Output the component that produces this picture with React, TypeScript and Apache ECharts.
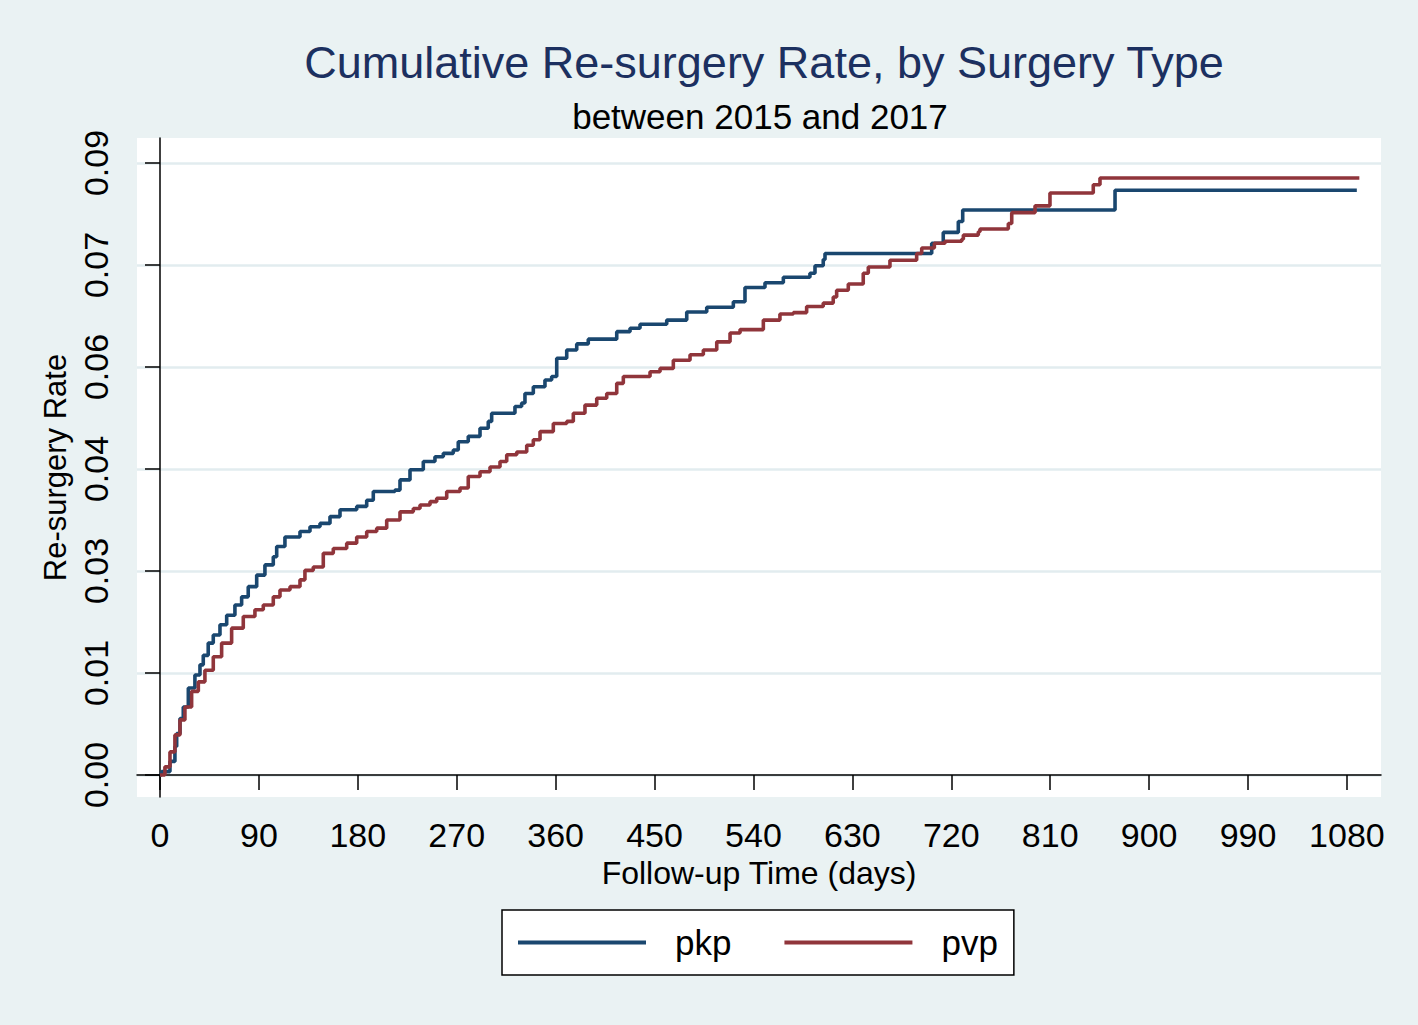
import React, { useEffect, useRef } from "react";
import * as echarts from "echarts";

const FONT = "Liberation Sans, Arial, Helvetica, sans-serif";

const chartTitle = "Cumulative Re-surgery Rate, by Surgery Type";
const chartSubtitle = "between 2015 and 2017";
const xAxisTitle = "Follow-up Time (days)";
const yAxisTitle = "Re-surgery Rate";
const seriesNames = ["pkp", "pvp"];

const xTickValues = [0, 90, 180, 270, 360, 450, 540, 630, 720, 810, 900, 990, 1080];
const yTickValues = [0, 0.015, 0.03, 0.045, 0.06, 0.075, 0.09];
const yTickLabels = ["0.00", "0.01", "0.03", "0.04", "0.06", "0.07", "0.09"];

const pkpDays = [
  0, 1.5, 9.1, 13.6, 15.2, 18.2, 21.2, 25.8, 31.8, 36.4, 39.4, 43.9, 48.5, 54.6, 60.7, 68.2,
  74.3, 80.3, 88.0, 95.5, 103.1, 106.2, 113.7, 127.4, 136.5, 145.6, 154.7, 163.8, 179.0, 188.1,
  194.1, 213.8, 218.4, 227.5, 239.6, 250.2, 257.8, 266.9, 271.4, 280.5, 291.2, 298.7, 301.8,
  323.0, 329.1, 332.1, 339.7, 350.3, 356.4, 361.0, 370.1, 379.2, 389.7, 415.6, 427.7, 436.8,
  461.1, 479.3, 497.5, 521.7, 532.3, 550.5, 567.2, 591.4, 596.0, 603.5, 605.1, 702.2, 712.7,
  726.4, 730.4, 869.0, 1089,
];
const pkpRate = [
  0, 0.0005, 0.002, 0.0042, 0.0061, 0.0083, 0.01, 0.0128, 0.0147, 0.0162, 0.0176, 0.0194,
  0.0206, 0.0221, 0.0235, 0.025, 0.0262, 0.0277, 0.0294, 0.0309, 0.0321, 0.0336, 0.035, 0.0358,
  0.0365, 0.037, 0.038, 0.039, 0.0395, 0.0404, 0.0417, 0.0419, 0.0434, 0.0449, 0.0461, 0.0468,
  0.0473, 0.0478, 0.049, 0.0498, 0.051, 0.052, 0.0532, 0.0542, 0.0547, 0.0561, 0.0571, 0.0581,
  0.0586, 0.0613, 0.0625, 0.0634, 0.0641, 0.0652, 0.0657, 0.0663, 0.0669, 0.0681, 0.0688,
  0.0696, 0.0717, 0.0724, 0.0732, 0.0738, 0.0749, 0.0758, 0.0767, 0.0782, 0.0798, 0.0814,
  0.0831, 0.086, 0.086,
];

const pvpDays = [
  0, 4.5, 9.1, 13.6, 18.2, 22.7, 28.8, 34.9, 40.9, 48.5, 56.1, 65.2, 75.8, 86.4, 94.0, 103.1,
  109.2, 118.3, 127.4, 131.9, 139.5, 148.6, 157.7, 169.9, 179.0, 188.1, 197.2, 206.3, 218.4,
  230.5, 236.6, 245.7, 251.8, 260.9, 273.0, 280.5, 291.2, 300.3, 309.4, 315.5, 324.6, 333.7,
  339.7, 345.8, 357.9, 370.1, 376.1, 386.7, 397.4, 406.5, 415.6, 421.6, 445.9, 455.0, 467.1,
  482.3, 494.4, 506.6, 518.7, 527.8, 549.0, 564.1, 576.3, 588.4, 603.5, 612.6, 615.7, 626.3,
  639.9, 644.5, 664.2, 688.5, 693.1, 704.6, 714.3, 729.5, 731.0, 744.6, 746.1, 771.9, 775.0,
  796.2, 809.8, 849.2, 855.3, 1091.3,
];
const pvpRate = [
  0, 0.0012, 0.0034, 0.0059, 0.0081, 0.01, 0.0123, 0.0137, 0.0154, 0.0174, 0.0194, 0.0216,
  0.0233, 0.0243, 0.025, 0.0262, 0.0272, 0.0277, 0.0287, 0.0301, 0.0306, 0.0326, 0.0333,
  0.0341, 0.035, 0.0358, 0.0363, 0.0375, 0.0387, 0.0392, 0.0397, 0.0402, 0.0407, 0.0417,
  0.0422, 0.0439, 0.0446, 0.0453, 0.0461, 0.0471, 0.0475, 0.0485, 0.0493, 0.0505, 0.0517,
  0.052, 0.0532, 0.0544, 0.0554, 0.0561, 0.0576, 0.0586, 0.0593, 0.0598, 0.061, 0.0618, 0.0625,
  0.0637, 0.065, 0.0655, 0.0669, 0.0678, 0.068, 0.0689, 0.0694, 0.0703, 0.0713, 0.0722, 0.0738,
  0.0747, 0.0757, 0.0767, 0.0775, 0.0782, 0.0785, 0.0788, 0.0794, 0.0799, 0.0803, 0.0811,
  0.0827, 0.0837, 0.0856, 0.0868, 0.0878, 0.0878,
];

const seriesColors = ["#1a476f", "#90353b"];

function zip(a: number[], b: number[]) {
  return a.map((v, i) => [v, b[i]]);
}

export default function App() {
  const ref = useRef<HTMLDivElement>(null);
  useEffect(() => {
    if (!ref.current) return;
    const chart = echarts.init(ref.current, undefined, { renderer: "svg" });
    const yLabel = (v: number) => {
      const i = yTickValues.findIndex((t) => Math.abs(t - v) < 1e-9);
      return i >= 0 ? yTickLabels[i] : "";
    };
    chart.setOption({
      animation: false,
      backgroundColor: "#eaf2f3",
      title: [
        {
          text: chartTitle,
          left: 764,
          top: 40,
          textAlign: "center",
          padding: 0,
          textStyle: { fontSize: 45, fontWeight: "normal", color: "#1c3060", fontFamily: FONT },
        },
        {
          text: chartSubtitle,
          left: 760,
          top: 99,
          textAlign: "center",
          padding: 0,
          textStyle: { fontSize: 35, fontWeight: "normal", color: "#000", fontFamily: FONT },
        },
      ],
      grid: {
        left: 137,
        top: 138,
        right: 37,
        bottom: 228,
        show: true,
        backgroundColor: "#ffffff",
        borderWidth: 0,
      },
      legend: {
        data: seriesNames,
        left: 502,
        top: 910,
        orient: "horizontal",
        backgroundColor: "#ffffff",
        borderColor: "#000000",
        borderWidth: 1.5,
        borderRadius: 0,
        padding: [15, 16, 15, 16],
        itemWidth: 128,
        itemHeight: 4,
        icon: "rect",
        itemGap: 53,
        textStyle: { fontSize: 35, color: "#000", fontFamily: FONT, padding: [0, 0, 0, 24] },
      },
      xAxis: {
        type: "value",
        min: -20.9,
        max: 1111,
        name: xAxisTitle,
        nameLocation: "middle",
        nameGap: 59,
        nameTextStyle: { fontSize: 32, color: "#000", fontFamily: FONT },
        axisLine: { show: true, lineStyle: { color: "#000", width: 1.5 } },
        axisTick: { show: true, length: 15, customValues: xTickValues, lineStyle: { color: "#000", width: 1.5 } },
        axisLabel: {
          customValues: xTickValues,
          fontSize: 34,
          color: "#000",
          fontFamily: FONT,
          margin: 21,
          formatter: (v: number) => String(v),
        },
        splitLine: { show: false },
      },
      yAxis: {
        type: "value",
        min: -0.003235,
        max: 0.09368,
        name: yAxisTitle,
        nameLocation: "middle",
        nameGap: 64,
        nameRotate: 90,
        nameTextStyle: { fontSize: 31, color: "#000", fontFamily: FONT },
        axisLine: { show: true, lineStyle: { color: "#000", width: 1.5 } },
        axisTick: { show: true, length: 15, customValues: yTickValues, lineStyle: { color: "#000", width: 1.5 } },
        axisLabel: {
          customValues: yTickValues,
          rotate: 90,
          fontSize: 34,
          color: "#000",
          fontFamily: FONT,
          margin: 24,
          formatter: yLabel,
        },
        splitLine: { show: true, lineStyle: { color: "#e2ecef", width: 2.5 } },
      },
      series: [
        {
          name: seriesNames[0],
          type: "line",
          step: "end",
          symbol: "none",
          data: zip(pkpDays, pkpRate),
          itemStyle: { color: seriesColors[0] },
          lineStyle: { color: seriesColors[0], width: 3.6 },
        },
        {
          name: seriesNames[1],
          type: "line",
          step: "end",
          symbol: "none",
          data: zip(pvpDays, pvpRate),
          itemStyle: { color: seriesColors[1] },
          lineStyle: { color: seriesColors[1], width: 3.6 },
        },
      ],
    });
    return () => chart.dispose();
  }, []);
  return (
    <div
      ref={ref}
      style={{ position: "absolute", left: 0, top: 0, width: 1418, height: 1025 }}
    />
  );
}
